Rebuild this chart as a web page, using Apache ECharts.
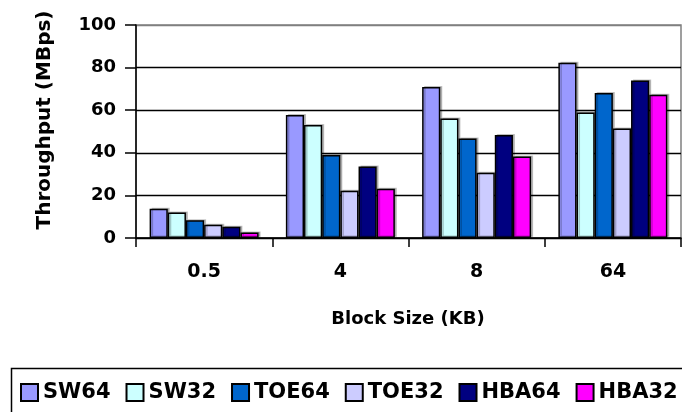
<!DOCTYPE html>
<html>
<head>
<meta charset="utf-8">
<script src="https://cdn.jsdelivr.net/npm/echarts@6/dist/echarts.min.js"></script>
<style>
html,body{margin:0;padding:0;background:#fff;}
#chart{width:682px;height:412px;}
</style>
</head>
<body>
<div id="chart"></div>
<script>
const categories = ['0.5', '4', '8', '64'];
const seriesNames = ['SW64', 'SW32', 'TOE64', 'TOE32', 'HBA64', 'HBA32'];
const seriesColors = ['#9999FF', '#CCFFFF', '#0066CC', '#CCCCFF', '#000080', '#FF00FF'];
const SW64 = [13.7, 57.8, 70.9, 82.3];
const SW32 = [12.0, 53.1, 56.1, 58.9];
const TOE64 = [8.3, 39.0, 46.7, 68.1];
const TOE32 = [6.2, 22.2, 30.6, 51.4];
const HBA64 = [5.3, 33.6, 48.4, 73.9];
const HBA32 = [2.6, 23.1, 38.3, 67.2];
const seriesValues = [SW64, SW32, TOE64, TOE32, HBA64, HBA32];
const yTicks = [0, 20, 40, 60, 80, 100];

const FONT = '"DejaVu Sans", Arial, sans-serif';
const chart = echarts.init(document.getElementById('chart'), null, {renderer: 'canvas'});

const series = seriesNames.map((name, i) => ({
  name: name,
  type: 'bar',
  data: seriesValues[i],
  barGap: '0%',
  barCategoryGap: '20%',
  itemStyle: {
    color: seriesColors[i],
    borderColor: '#000',
    borderWidth: 1.5,
    shadowColor: 'rgba(0,0,0,0.22)',
    shadowOffsetX: 2,
    shadowOffsetY: -1,
    shadowBlur: 0
  },
  emphasis: {disabled: true}
}));

chart.setOption({
  animation: false,
  backgroundColor: '#fff',
  grid: {left: 136, right: 1, top: 25, bottom: 174, show: true, borderColor: '#808080', borderWidth: 1.5, backgroundColor: 'transparent'},
  xAxis: {
    type: 'category',
    data: categories,
    axisLine: {show: true, lineStyle: {color: '#000', width: 1.5}},
    axisTick: {show: true, inside: false, length: 9, lineStyle: {color: '#000', width: 1.5}},
    axisLabel: {color: '#000', fontFamily: FONT, fontWeight: 'bold', fontSize: 19, margin: 25},
    splitLine: {show: false}
  },
  yAxis: {
    type: 'value',
    min: yTicks[0],
    max: yTicks[yTicks.length - 1],
    interval: 20,
    axisLine: {show: true, lineStyle: {color: '#000', width: 1.5}},
    axisTick: {show: true, inside: false, length: 11, lineStyle: {color: '#000', width: 1.5}},
    axisLabel: {color: '#000', fontFamily: FONT, fontWeight: 'bold', fontSize: 18, margin: 20},
    splitLine: {show: true, lineStyle: {color: ['#000', '#000', '#000', '#000', '#000', '#808080'], width: 1.3}}
  },
  legend: {
    show: true,
    left: 20,
    top: 382,
    width: 680,
    orient: 'horizontal',
    padding: 0,
    itemWidth: 17,
    itemHeight: 17,
    itemGap: 15,
    icon: 'rect',
    data: seriesNames,
    textStyle: {color: '#000', fontFamily: FONT, fontWeight: 'bold', fontSize: 21},
    selectedMode: false
  },
  graphic: [
    {
      type: 'rect',
      left: 9, top: 366,
      shape: {x: 0, y: 0, width: 700, height: 100},
      style: {fill: 'none', stroke: '#000', lineWidth: 1.5},
      silent: true
    },
    {
      type: 'text',
      x: 45, y: 120,
      rotation: Math.PI / 2,
      style: {text: 'Throughput (MBps)', font: 'bold 20px ' + FONT, fill: '#000', align: 'center', verticalAlign: 'middle'},
      silent: true
    },
    {
      type: 'text',
      x: 408, y: 319,
      style: {text: 'Block Size (KB)', font: 'bold 18px ' + FONT, fill: '#000', align: 'center', verticalAlign: 'middle'},
      silent: true
    }
  ],
  series: series
});
</script>
</body>
</html>
